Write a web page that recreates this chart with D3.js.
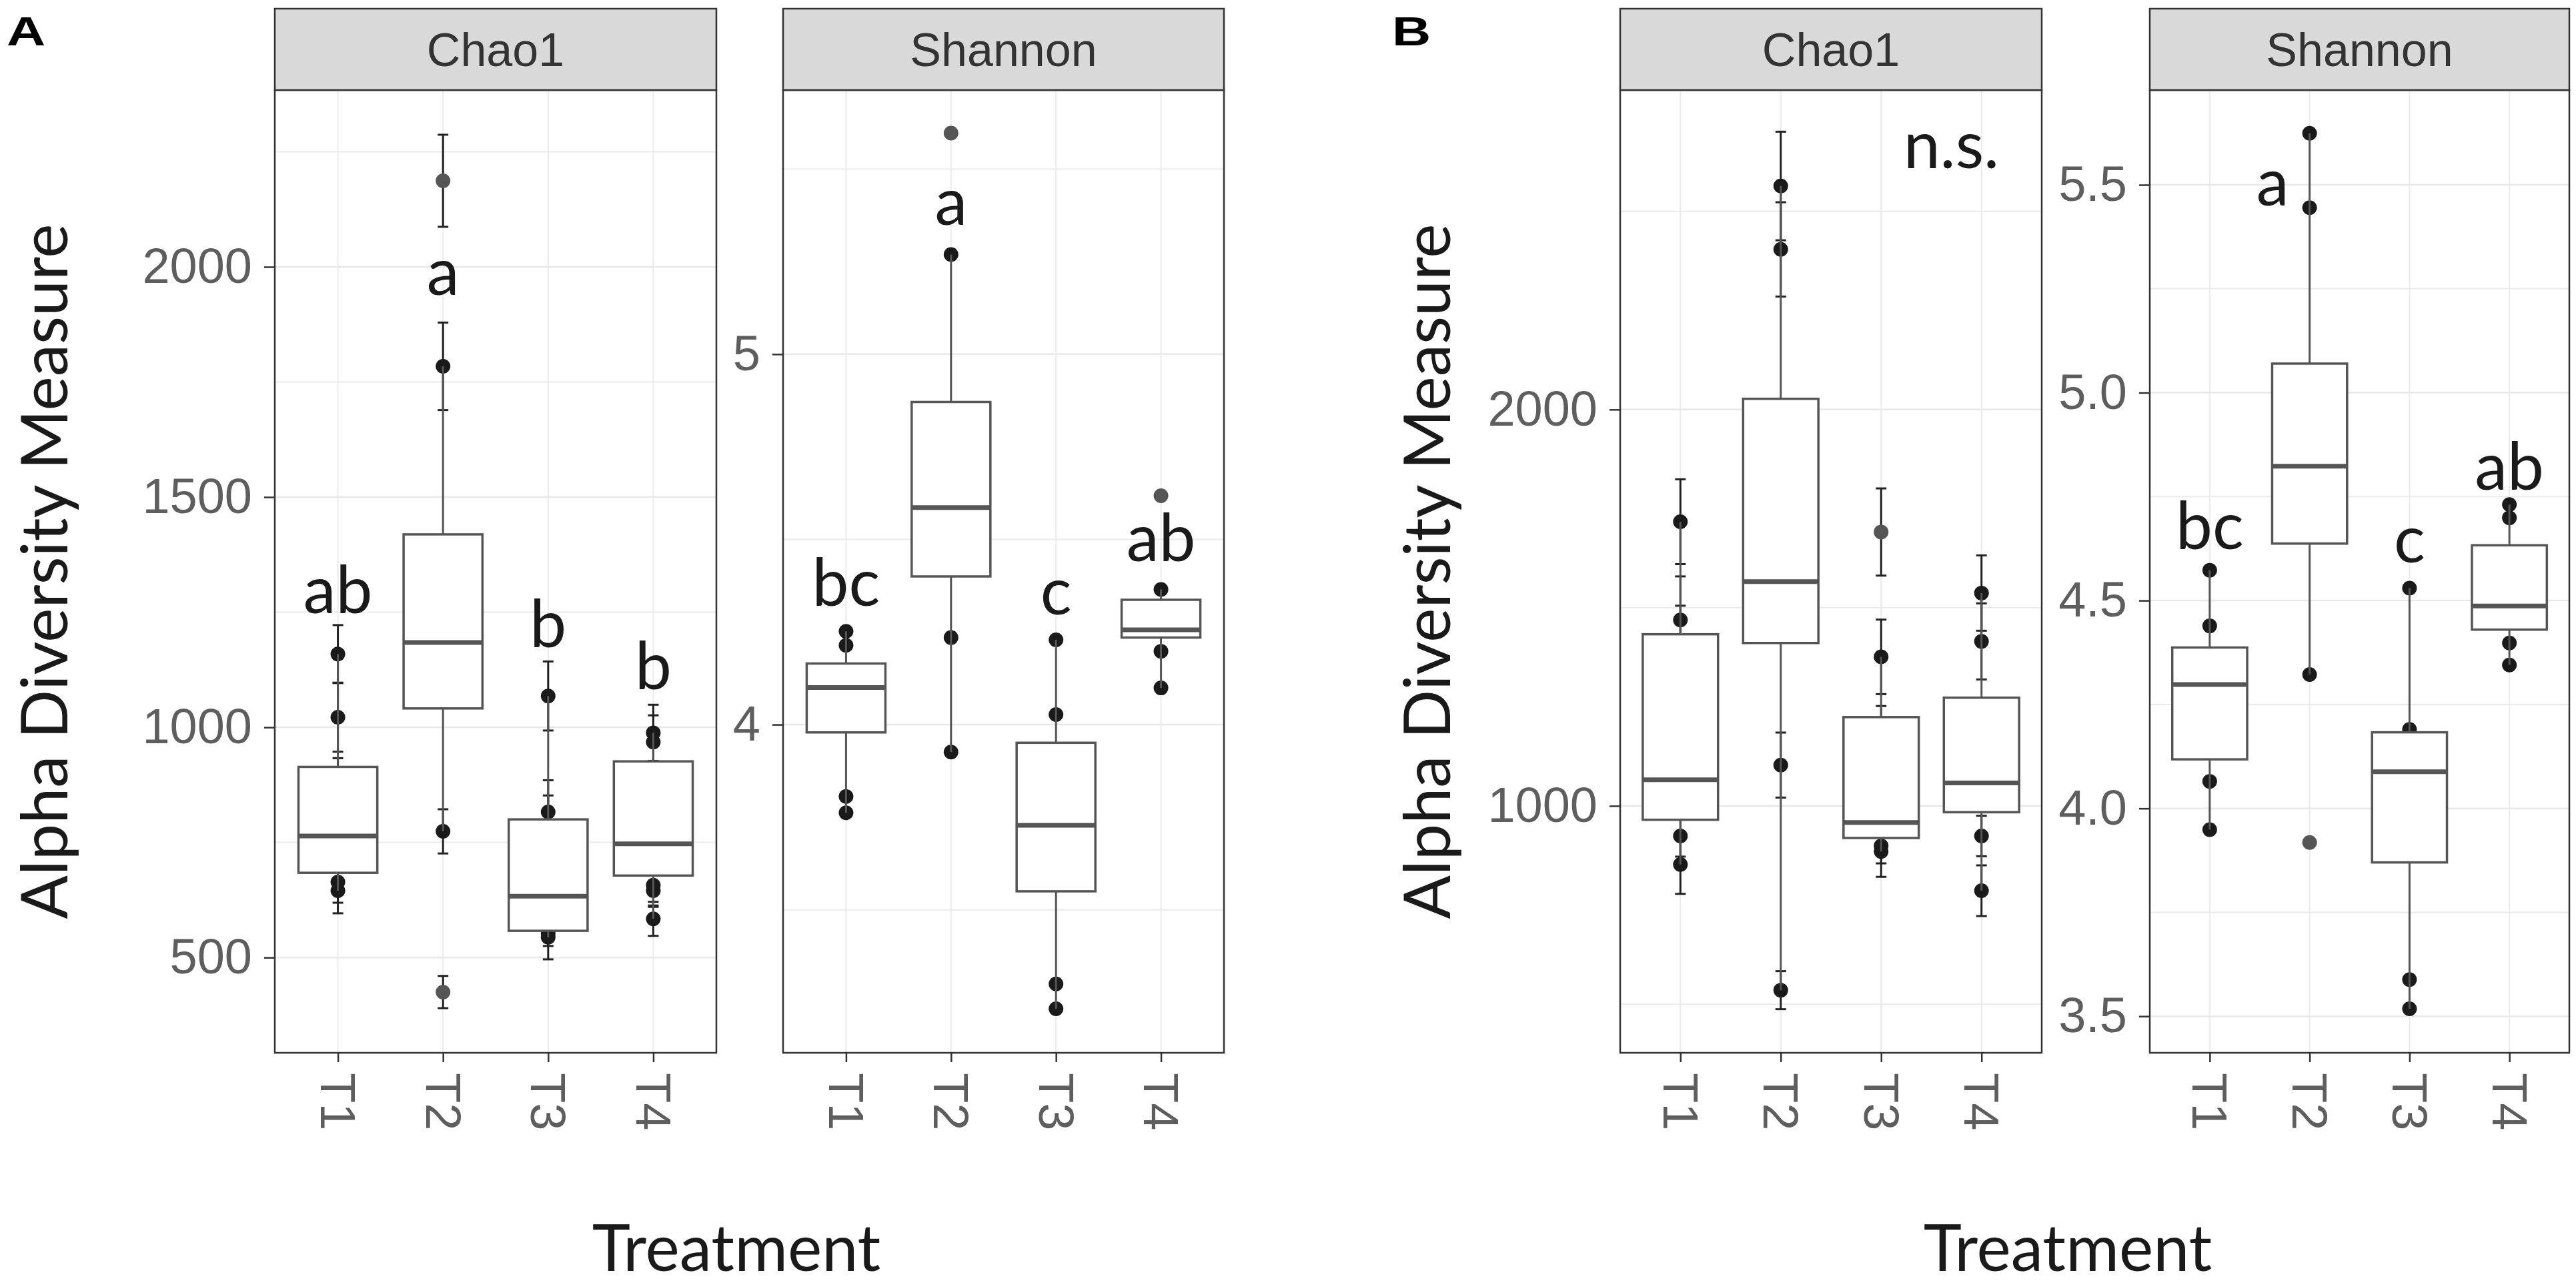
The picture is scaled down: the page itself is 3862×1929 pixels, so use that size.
<!DOCTYPE html>
<html>
<head>
<meta charset="utf-8">
<script src="https://cdn.jsdelivr.net/npm/d3@7"></script>
<style>
  html, body { margin: 0; padding: 0; background: #fff; }
</style>
</head>
<body>
<div id="chart"></div>
<script>
const treatments = ["T1", "T2", "T3", "T4"];

// box stats per treatment: [whiskerLo, q1, median, q3, whiskerHi]
const chaoBoxA = [[645, 684, 764, 914, 1159], [774, 1041, 1184, 1419, 1784], [544, 558, 633, 800, 1068], [584, 678, 747, 926, 988]];
const shannonBoxA = [[3.762, 3.979, 4.10, 4.165, 4.252], [3.926, 4.40, 4.586, 4.871, 5.269], [3.233, 3.55, 3.728, 3.951, 4.229], [4.099, 4.235, 4.256, 4.337, 4.365]];
const chaoBoxB = [[852, 965, 1066, 1433, 1717], [535, 1411, 1566, 2027, 2564], [885, 919, 958, 1224, 1376], [786, 984, 1058, 1273, 1537]];
const shannonBoxB = [[3.949, 4.118, 4.298, 4.387, 4.573], [4.322, 4.637, 4.823, 5.07, 5.624], [3.518, 3.87, 4.088, 4.183, 4.53], [4.345, 4.43, 4.487, 4.633, 4.731]];

// samples: [treatment index, value, standard error (Chao1 only)]
const chaoPtsA = [
  [0, 1159, 63], [0, 1022, 75], [0, 860, 73], [0, 664, 45], [0, 645, 49],
  [1, 1784, 95], [1, 774, 48],
  [2, 1068, 75], [2, 816, 69], [2, 780, 72], [2, 552, 27], [2, 544, 48],
  [3, 988, 61], [3, 968, 58], [3, 657, 44], [3, 645, 35], [3, 584, 37]
];
const chaoOutA = [[1, 2187, 100], [1, 425, 35]];
const shannonPtsA = [
  [0, 4.252], [0, 4.214], [0, 3.806], [0, 3.762],
  [1, 5.269], [1, 4.235], [1, 3.926],
  [2, 4.229], [2, 4.027], [2, 3.30], [2, 3.233],
  [3, 4.365], [3, 4.198], [3, 4.099]
];
const shannonOutA = [[1, 5.597], [3, 4.618]];
const chaoPtsB = [
  [0, 1717, 107], [0, 1469, 110], [0, 1400, 105], [0, 924, 52], [0, 852, 74],
  [1, 2564, 137], [1, 2404, 119], [1, 1103, 82], [1, 535, 48],
  [2, 1376, 94], [2, 1160, 92], [2, 899, 44], [2, 885, 64],
  [3, 1537, 95], [3, 1415, 96], [3, 924, 51], [3, 786, 64]
];
const chaoOutB = [[2, 1691, 110]];
const shannonPtsB = [
  [0, 4.573], [0, 4.439], [0, 4.065], [0, 3.949],
  [1, 5.624], [1, 5.445], [1, 4.322],
  [2, 4.53], [2, 4.19], [2, 3.588], [2, 3.518],
  [3, 4.731], [3, 4.699], [3, 4.398], [3, 4.345]
];
const shannonOutB = [[1, 3.918]];

// significance letters: [x position (1 = T1), value at baseline, text]
const chaoLabelsA = [[1, 1248, "ab"], [2, 1939, "a"], [3, 1174, "b"], [4, 1083, "b"]];
const shannonLabelsA = [[1, 4.321, "bc"], [2, 5.35, "a"], [3, 4.297, "c"], [4, 4.441, "ab"]];
const chaoLabelsB = [[3.7, 2609, "n.s."]];
const shannonLabelsB = [[1, 4.624, "bc"], [1.63, 5.45, "a"], [3, 4.591, "c"], [4, 4.766, "ab"]];

const width = 3862;
const height = 1929;
const plotTop = 135, plotBottom = 1578, stripTop = 13;

const panels = [
  { title: "Chao1", x0: 412, x1: 1074, domain: [293, 2384], ticks: [500, 1000, 1500, 2000], minor: [750, 1250, 1750, 2250], fmt: d3.format("d"), box: chaoBoxA, pts: chaoPtsA, out: chaoOutA, labels: chaoLabelsA },
  { title: "Shannon", x0: 1174, x1: 1835, domain: [3.114, 5.713], ticks: [4, 5], minor: [3.5, 4.5, 5.5], fmt: d3.format("d"), box: shannonBoxA, pts: shannonPtsA, out: shannonOutA, labels: shannonLabelsA },
  { title: "Chao1", x0: 2429, x1: 3061, domain: [377, 2806], ticks: [1000, 2000], minor: [500, 1500, 2500], fmt: d3.format("d"), box: chaoBoxB, pts: chaoPtsB, out: chaoOutB, labels: chaoLabelsB },
  { title: "Shannon", x0: 3223, x1: 3852, domain: [3.412, 5.728], ticks: [3.5, 4.0, 4.5, 5.0, 5.5], minor: [3.75, 4.25, 4.75, 5.25], fmt: d3.format(".1f"), box: shannonBoxB, pts: shannonPtsB, out: shannonOutB, labels: shannonLabelsB }
];

const svg = d3.select("#chart")
  .append("svg")
  .attr("width", width)
  .attr("height", height)
  .attr("viewBox", `0 0 ${width} ${height}`);

svg.append("rect").attr("width", width).attr("height", height).attr("fill", "#fff");

const boxColor = "#555";
const titleFont = "Lato, 'Open Sans', sans-serif";
const tickFont = "'Liberation Sans', Arial, sans-serif";

panels.forEach((p) => {
  const x = d3.scaleLinear().domain([0.4, 4.6]).range([p.x0, p.x1]);
  const y = d3.scaleLinear().domain(p.domain).range([plotBottom, plotTop]);
  const g = svg.append("g");

  // grid
  g.selectAll(".minor").data(p.minor).join("line")
    .attr("x1", p.x0).attr("x2", p.x1)
    .attr("y1", (d) => y(d)).attr("y2", (d) => y(d))
    .attr("stroke", "#ebebeb").attr("stroke-width", 2);
  g.selectAll(".major").data(p.ticks).join("line")
    .attr("x1", p.x0).attr("x2", p.x1)
    .attr("y1", (d) => y(d)).attr("y2", (d) => y(d))
    .attr("stroke", "#e8e8e8").attr("stroke-width", 2.5);
  g.selectAll(".vgrid").data(treatments).join("line")
    .attr("x1", (d, i) => x(i + 1)).attr("x2", (d, i) => x(i + 1))
    .attr("y1", plotTop).attr("y2", plotBottom)
    .attr("stroke", "#ebebeb").attr("stroke-width", 2);

  // error bars (Chao1 only)
  const withSe = p.pts.concat(p.out).filter((d) => d[2] !== undefined);
  const eb = g.selectAll(".eb").data(withSe).join("g").attr("stroke", "#222").attr("stroke-width", 3);
  eb.append("line")
    .attr("x1", (d) => x(d[0] + 1)).attr("x2", (d) => x(d[0] + 1))
    .attr("y1", (d) => y(d[1] - d[2])).attr("y2", (d) => y(d[1] + d[2]));
  eb.append("line")
    .attr("x1", (d) => x(d[0] + 1) - 8).attr("x2", (d) => x(d[0] + 1) + 8)
    .attr("y1", (d) => y(d[1] + d[2])).attr("y2", (d) => y(d[1] + d[2]));
  eb.append("line")
    .attr("x1", (d) => x(d[0] + 1) - 8).attr("x2", (d) => x(d[0] + 1) + 8)
    .attr("y1", (d) => y(d[1] - d[2])).attr("y2", (d) => y(d[1] - d[2]));

  // sample points
  g.selectAll(".pt").data(p.pts).join("circle")
    .attr("cx", (d) => x(d[0] + 1)).attr("cy", (d) => y(d[1]))
    .attr("r", 11).attr("fill", "#1a1a1a");

  // boxplots
  const bw = 0.375;
  const bx = g.selectAll(".box").data(p.box).join("g");
  bx.append("line")
    .attr("x1", (d, i) => x(i + 1)).attr("x2", (d, i) => x(i + 1))
    .attr("y1", (d) => y(d[0])).attr("y2", (d) => y(d[1]))
    .attr("stroke", boxColor).attr("stroke-width", 3);
  bx.append("line")
    .attr("x1", (d, i) => x(i + 1)).attr("x2", (d, i) => x(i + 1))
    .attr("y1", (d) => y(d[3])).attr("y2", (d) => y(d[4]))
    .attr("stroke", boxColor).attr("stroke-width", 3);
  bx.append("rect")
    .attr("x", (d, i) => x(i + 1 - bw)).attr("width", (d, i) => x(i + 1 + bw) - x(i + 1 - bw))
    .attr("y", (d) => y(d[3])).attr("height", (d) => y(d[1]) - y(d[3]))
    .attr("fill", "#fff").attr("stroke", boxColor).attr("stroke-width", 3.5);
  bx.append("line")
    .attr("x1", (d, i) => x(i + 1 - bw)).attr("x2", (d, i) => x(i + 1 + bw))
    .attr("y1", (d) => y(d[2])).attr("y2", (d) => y(d[2]))
    .attr("stroke", boxColor).attr("stroke-width", 7);

  // outliers
  g.selectAll(".out").data(p.out).join("circle")
    .attr("cx", (d) => x(d[0] + 1)).attr("cy", (d) => y(d[1]))
    .attr("r", 11).attr("fill", "#555");

  // letters
  g.selectAll(".lab").data(p.labels).join("text")
    .attr("x", (d) => x(d[0])).attr("y", (d) => y(d[1]))
    .attr("text-anchor", "middle")
    .attr("font-family", titleFont).attr("font-size", 98)
    .attr("fill", "#1a1a1a")
    .text((d) => d[2]);

  // panel border and strip
  g.append("rect")
    .attr("x", p.x0).attr("y", plotTop).attr("width", p.x1 - p.x0).attr("height", plotBottom - plotTop)
    .attr("fill", "none").attr("stroke", "#333").attr("stroke-width", 2.5);
  g.append("rect")
    .attr("x", p.x0).attr("y", stripTop).attr("width", p.x1 - p.x0).attr("height", plotTop - stripTop)
    .attr("fill", "#d9d9d9").attr("stroke", "#333").attr("stroke-width", 2.5);
  g.append("text")
    .attr("x", (p.x0 + p.x1) / 2).attr("y", (stripTop + plotTop) / 2)
    .attr("dy", "0.36em").attr("text-anchor", "middle")
    .attr("font-family", tickFont).attr("font-size", 70)
    .attr("fill", "#333")
    .text(p.title);

  // y axis
  const yAxis = g.append("g")
    .attr("transform", `translate(${p.x0},0)`)
    .call(d3.axisLeft(y).tickValues(p.ticks).tickFormat(p.fmt).tickSize(16).tickPadding(18));
  yAxis.select(".domain").remove();
  yAxis.selectAll("line").attr("stroke", "#333").attr("stroke-width", 2.5);
  yAxis.selectAll("text")
    .attr("font-family", tickFont).attr("font-size", 74).attr("fill", "#5e5e5e");

  // x axis
  const xAxis = g.append("g")
    .attr("transform", `translate(0,${plotBottom})`)
    .call(d3.axisBottom(x).tickValues([1, 2, 3, 4]).tickFormat((i) => treatments[i - 1]).tickSize(14));
  xAxis.select(".domain").remove();
  xAxis.selectAll("line").attr("stroke", "#333").attr("stroke-width", 2.5);
  xAxis.selectAll("text")
    .attr("transform", "rotate(90)")
    .attr("x", 30).attr("y", 0).attr("dy", "0.35em")
    .attr("text-anchor", "start")
    .attr("font-family", tickFont).attr("font-size", 74).attr("fill", "#5e5e5e");
});

// axis titles
[{ x: 101, tx: 1104 }, { x: 2174, tx: 3100 }].forEach((a) => {
  svg.append("text")
    .attr("transform", `translate(${a.x},${(plotTop + plotBottom) / 2}) rotate(-90)`)
    .attr("text-anchor", "middle")
    .attr("font-family", titleFont).attr("font-size", 97).attr("fill", "#1a1a1a")
    .text("Alpha Diversity Measure");
  svg.append("text")
    .attr("x", a.tx).attr("y", 1905)
    .attr("text-anchor", "middle")
    .attr("font-family", titleFont).attr("font-size", 97).attr("fill", "#1a1a1a")
    .text("Treatment");
});

// panel letters
[{ x: 10, t: "A" }, { x: 2087, t: "B" }].forEach((l) => {
  svg.append("text")
    .attr("transform", `translate(${l.x},68) scale(1.3,1)`)
    .attr("font-family", tickFont).attr("font-weight", "bold").attr("font-size", 62)
    .attr("fill", "#000")
    .text(l.t);
});
</script>
</body>
</html>
